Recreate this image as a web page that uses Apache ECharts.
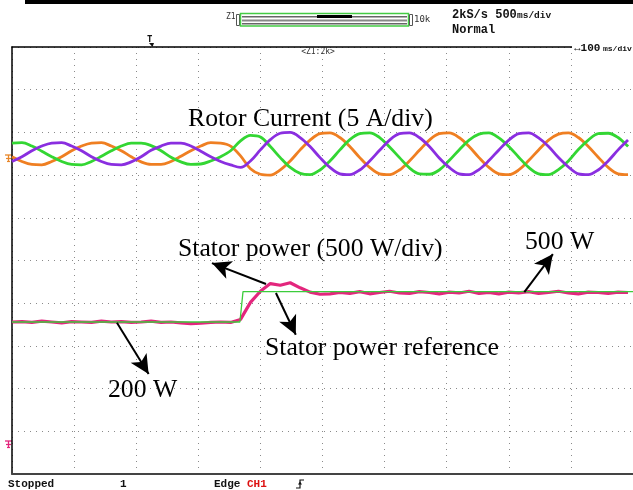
<!DOCTYPE html>
<html><head><meta charset="utf-8">
<script src="https://cdn.jsdelivr.net/npm/echarts@6/dist/echarts.min.js"></script>
<style>html,body{margin:0;padding:0;background:#fff}#c{width:633px;height:490px}</style>
</head><body><div id="c"></div>
<script>
// time in divisions (500 ms/div)
const times = [0,0.16,0.32,0.48,0.64,0.8,0.96,1.12,1.28,1.44,1.6,1.76,1.92,2.08,2.24,2.4,2.56,2.72,2.88,3.04,3.2,3.36,3.52,3.68,3.84,4,4.16,4.32,4.48,4.64,4.8,4.96,5.12,5.28,5.44,5.6,5.76,5.92,6.08,6.24,6.4,6.56,6.72,6.88,7.04,7.2,7.36,7.52,7.68,7.84,8,8.16,8.32,8.48,8.64,8.8,8.96,9.12,9.28,9.44,9.6,9.76,9.92];
// rotor current phases (screen divisions)
const greenCurrent = [7.75,7.76,7.68,7.56,7.43,7.32,7.25,7.24,7.32,7.44,7.57,7.68,
 7.75,7.75,7.69,7.57,7.42,7.31,7.25,7.26,7.33,7.43,7.57,
 7.80,
 7.93,7.89,7.67,7.41,7.18,7.04,7.01,7.12,7.33,7.59,7.83,7.97,
 7.99,7.88,7.66,7.41,7.17,7.03,7.02,7.12,7.34,7.59,7.82,7.96,
 7.99,7.87,7.67,7.42,7.18,7.03,7.01,7.13,7.33,7.60,7.82,7.97,
 7.98,7.88,7.67];
const purpleCurrent = [7.32,7.43,7.57,7.68,7.75,7.76,7.68,7.57,7.43,7.32,7.25,7.24,
 7.31,7.43,7.58,7.68,7.75,7.75,7.68,7.56,7.43,7.32,7.24,
 7.18,
 7.33,7.59,7.83,7.98,8.00,7.88,7.67,7.41,7.18,7.03,7.01,7.12,
 7.33,7.58,7.82,7.97,7.99,7.88,7.67,7.40,7.18,7.03,7.01,7.13,
 7.34,7.59,7.82,7.97,7.99,7.87,7.67,7.41,7.19,7.03,7.01,7.12,
 7.33,7.59,7.82];
const orangeCurrent = [7.43,7.32,7.25,7.24,7.32,7.43,7.57,7.68,7.75,7.76,7.68,7.57,
 7.43,7.31,7.25,7.25,7.32,7.44,7.57,7.68,7.76,7.75,7.68,
 7.45,
 7.15,7.02,7.00,7.12,7.33,7.59,7.82,7.97,7.99,7.88,7.67,7.41,
 7.18,7.03,7.01,7.12,7.33,7.58,7.82,7.97,7.99,7.88,7.67,7.41,
 7.18,7.03,7.01,7.12,7.34,7.59,7.82,7.96,7.99,7.88,7.67,7.42,
 7.18,7.03,7.01];
// stator power (divisions)
const statorPower = [3.56,3.57,3.55,3.58,3.56,3.54,3.57,3.56,3.55,3.58,3.56,3.57,3.55,3.56,3.58,3.55,3.56,3.54,3.52,3.53,3.55,3.56,3.55,
 3.62,4.02,4.28,4.46,4.42,4.48,4.36,4.26,4.21,4.22,4.25,4.23,4.27,4.22,4.25,4.28,4.24,4.23,4.27,4.25,4.22,4.26,4.24,4.28,4.23,4.25,4.22,4.26,4.24,4.27,4.23,4.25,4.28,4.24,4.22,4.26,4.25,4.23,4.26,4.25];
// stator power reference step
const refTimes = [0, 3.67, 3.72, 10];
const refPower = [3.56, 3.56, 4.27, 4.27];
// annotation arrows [from, to] in divisions
const arrows = [
  [[4.09,4.45],[3.22,4.94]],
  [[4.25,4.24],[4.57,3.26]],
  [[8.25,4.26],[8.71,5.15]],
  [[1.69,3.54],[2.20,2.34]]
];
const annotations = [
  {text:'Rotor Current (5 A/div)', x:188, y:119},
  {text:'Stator power (500 W/div)', x:178, y:249.5},
  {text:'500 W', x:525, y:242.5},
  {text:'Stator power reference', x:265, y:348},
  {text:'200 W', x:108, y:390}
];

const pair = (xs, ys) => xs.map((x, i) => [x, ys[i]]);
const chart = echarts.init(document.getElementById('c'), null, {renderer:'canvas'});
const dotted = {show:true, lineStyle:{color:'#8a8a8a', width:1, type:[1,5]}};
const mono = 'bold 11px "Liberation Mono"';

function txt(text, x, y, font, fill, extra) {
  return Object.assign({type:'text', x:x, y:y, z:100, style:Object.assign({text:text, font:font, fill:fill||'#111', align:'left', verticalAlign:'middle'}, extra||{})});
}
function ground(x, y, color) {
  return {type:'group', z:100, children:[
    {type:'line', shape:{x1:x, y1:y, x2:x+7, y2:y}, style:{stroke:color, lineWidth:1.3}},
    {type:'line', shape:{x1:x+3.5, y1:y, x2:x+3.5, y2:y+7}, style:{stroke:color, lineWidth:1.3}},
    {type:'line', shape:{x1:x+1, y1:y+3.5, x2:x+6, y2:y+3.5}, style:{stroke:color, lineWidth:1.2}},
    {type:'line', shape:{x1:x+2, y1:y+6.5, x2:x+5, y2:y+6.5}, style:{stroke:color, lineWidth:1.2}}
  ]};
}

const graphics = [
  {type:'rect', shape:{x:25, y:0, width:608, height:4}, style:{fill:'#000'}, z:100},
  txt('Z1', 226, 17, '8px "DejaVu Sans Mono"', '#333'),
  {type:'rect', shape:{x:236.5, y:14.5, width:3, height:11}, style:{fill:'#fff', stroke:'#555', lineWidth:1}, z:100},
  {type:'rect', shape:{x:240.5, y:13.5, width:168, height:12.5}, style:{fill:'#fff', stroke:'#44cc44', lineWidth:1.5}, z:100},
  {type:'rect', shape:{x:242, y:16, width:165, height:1.5}, style:{fill:'#666'}, z:101},
  {type:'rect', shape:{x:242, y:19.5, width:165, height:2}, style:{fill:'#888'}, z:101},
  {type:'rect', shape:{x:242, y:23, width:165, height:1.5}, style:{fill:'#666'}, z:101},
  {type:'rect', shape:{x:317, y:15, width:35, height:3}, style:{fill:'#000'}, z:102},
  {type:'rect', shape:{x:409.5, y:14.5, width:3, height:11}, style:{fill:'#fff', stroke:'#555', lineWidth:1}, z:100},
  txt('10k', 414, 19.5, '9px "DejaVu Sans Mono"', '#333'),
  txt('2kS/s 500', 452, 15, 'bold 12px "Liberation Mono"', '#111'),
  txt('ms/div', 517, 16, 'bold 9.5px "Liberation Mono"', '#111'),
  txt('Normal', 452, 30, 'bold 12px "Liberation Mono"', '#111'),
  txt('T', 147, 39.5, 'bold 9px "DejaVu Sans Mono"', '#111'),
  {type:'polygon', shape:{points:[[149,43],[154,43],[152.5,47]]}, style:{fill:'#111'}, z:100},
  txt('<Z1:2k>', 318, 52, '8px "DejaVu Sans Mono"', '#333', {align:'center'}),
  {type:'rect', shape:{x:572, y:42, width:62, height:12}, style:{fill:'#fff'}, z:99},
  txt('\u2194100', 574, 48, 'bold 11px "Liberation Mono"', '#111'),
  txt('ms/div', 603, 49, 'bold 8px "Liberation Mono"', '#111'),
  ground(5, 155, '#e8872a'),
  ground(5, 441, '#e3267d'),
  txt('Stopped', 8, 484, mono, '#111'),
  txt('1', 120, 484, mono, '#111'),
  txt('Edge', 214, 484, mono, '#111'),
  txt('CH1', 247, 484, mono, '#dd1111'),
  {type:'polyline', shape:{points:[[296,488],[300,488],[300,480],[304,480]]}, style:{stroke:'#111', lineWidth:1.2, fill:null}, z:100},
  {type:'polygon', shape:{points:[[298,484.5],[302,484.5],[300,481.5]]}, style:{fill:'#111'}, z:100}
];
annotations.forEach(a => graphics.push(txt(a.text, a.x, a.y, '25.7px "Liberation Serif"', '#000')));

const axisOff = {axisTick:{show:false}, axisLabel:{show:false}};
chart.setOption({
  animation:false,
  backgroundColor:'#fff',
  grid:{left:12, top:47, width:625, height:427},
  xAxis:[
    Object.assign({type:'value', min:0, max:10, interval:1, position:'bottom', axisLine:{show:true, onZero:false, lineStyle:{color:'#444', width:2}}, splitLine:dotted}, axisOff),
    Object.assign({type:'value', min:0, max:10, interval:1, position:'top', axisLine:{show:true, onZero:false, lineStyle:{color:'#000', width:1.5}}, splitLine:{show:false}}, axisOff)
  ],
  yAxis:[
    Object.assign({type:'value', min:0, max:10, interval:1, axisLine:{show:true, onZero:false, lineStyle:{color:'#000', width:1.5}}, splitLine:dotted}, axisOff)
  ],
  series:[
    {type:'line', name:'Stator power', data:pair(times, statorPower), showSymbol:false, silent:true, lineStyle:{color:'#e3267d', width:3.2}, z:3},
    {type:'line', name:'Stator power reference', data:pair(refTimes, refPower), showSymbol:false, silent:true, lineStyle:{color:'#3ccc3c', width:1.3}, z:4,
      markLine:{silent:true, symbol:['none','arrow'], symbolSize:[14,19], label:{show:false},
        lineStyle:{color:'#000', width:2, type:'solid'}, emphasis:{disabled:true},
        data:arrows.map(a => [{coord:a[0]}, {coord:a[1]}])}},
    {type:'line', name:'Ir a', data:pair(times, orangeCurrent), smooth:0.35, showSymbol:false, silent:true, lineStyle:{color:'#ef7f22', width:2.8}, z:5},
    {type:'line', name:'Ir b', data:pair(times, greenCurrent), smooth:0.35, showSymbol:false, silent:true, lineStyle:{color:'#33d633', width:2.8}, z:6},
    {type:'line', name:'Ir c', data:pair(times, purpleCurrent), smooth:0.35, showSymbol:false, silent:true, lineStyle:{color:'#8a2ee0', width:2.8}, z:7}
  ],
  graphic:graphics
});
</script></body></html>
